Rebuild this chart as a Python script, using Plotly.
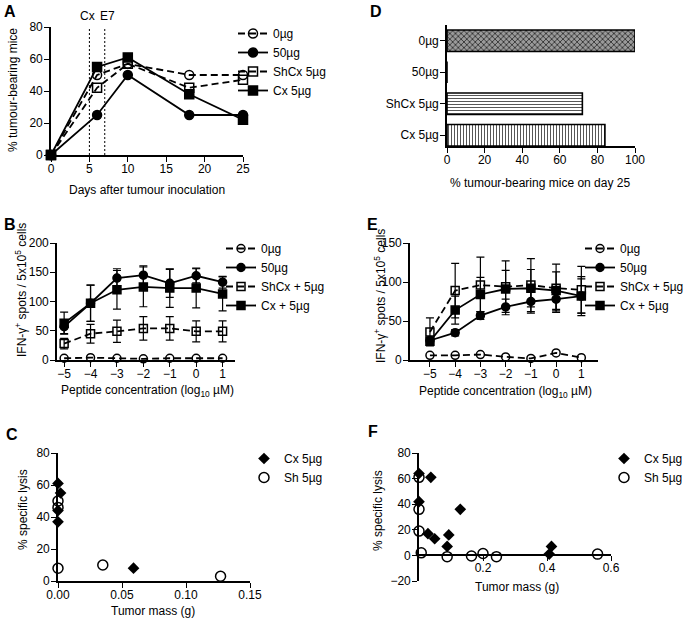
import plotly.graph_objects as go

W, H = 687, 623
FONT = "Liberation Sans, Arial, sans-serif"

# ---------------- data ----------------
A_days = [0, 6, 10, 18, 25]
A_0ug = [0, 50, 57, 50, 50]
A_50ug = [0, 25, 50, 25, 25]
A_shcx = [0, 42, 57, 42, 47]
A_cx = [0, 55, 61, 38, 22]

D_groups = ["0µg", "50µg", "ShCx 5µg", "Cx 5µg"]
D_values = [100, 0, 72, 84]

conc = [-5, -4, -3, -2, -1, 0, 1]
B_0ug = [3, 4, 3, 2, 3, 3, 3]
B_50ug = [57, 97, 140, 145, 131, 144, 133]
B_50ug_err = [12, 31, 16, 16, 24, 12, 10]
B_shcx = [28, 45, 49, 54, 54, 49, 49]
B_shcx_err = [9, 16, 19, 20, 20, 18, 18]
B_cx = [63, 97, 120, 125, 123, 123, 113]
B_cx_err = [19, 31, 33, 34, 33, 34, 29]

E_0ug = [6, 6, 7, 4, 2, 9, 3]
E_50ug = [25, 35, 57, 68, 75, 78, 82]
E_50ug_err = [4, 4, 5, 10, 15, 15, 25]
E_shcx = [36, 89, 96, 94, 96, 92, 90]
E_shcx_err = [18, 35, 36, 33, 34, 31, 30]
E_cx = [24, 64, 84, 91, 92, 89, 82]
E_cx_err = [5, 18, 22, 24, 24, 24, 22]

C_cx_mass = [0, 0.002, 0, 0, 0.059]
C_cx_lysis = [61, 55, 44, 37, 8]
C_sh_mass = [0, 0, 0, 0.035, 0.127]
C_sh_lysis = [50, 46, 8, 10, 3]

F_cx_mass = [0, 0, 0.037, 0.028, 0.049, 0.129, 0.093, 0.088, 0.407, 0.414]
F_cx_lysis = [64, 42, 61, 17, 13, 36, 16, 7, 1, 7]
F_sh_mass = [0, 0, 0, 0.007, 0.088, 0.164, 0.2, 0.242, 0.558]
F_sh_lysis = [61, 36, 19, 2, -1, -0.5, 1.5, -1, 1]


def fx(px):
    return px / W


def fy(py):
    return 1 - py / H


fig = go.Figure()

DASH = "7px,4px"
LW = 1.8


def series(x, y, name, symbol, dash, xa, ya, legend, err=None, size=8, showlegend=True):
    m = dict(symbol=symbol, size=size, color="black",
             line=dict(color="black", width=1.5))
    kw = {}
    if err is not None:
        kw["error_y"] = dict(type="data", array=err, visible=True, color="black",
                             thickness=1.2, width=4)
    fig.add_trace(go.Scatter(
        x=x, y=y, name=name, mode="lines+markers", marker=m,
        line=dict(color="black", width=LW, dash=dash),
        xaxis=xa, yaxis=ya, legend=legend, cliponaxis=False,
        showlegend=showlegend, **kw))


# Panel A
series(A_days, A_0ug, "0µg", "circle-open", DASH, "x", "y", "legend", size=9)
series(A_days, A_50ug, "50µg", "circle", "solid", "x", "y", "legend", size=9)
series(A_days, A_shcx, "ShCx 5µg", "square-open", DASH, "x", "y", "legend", size=9)
series(A_days, A_cx, "Cx 5µg", "square", "solid", "x", "y", "legend", size=9)

# Panel D
fig.add_trace(go.Bar(
    x=D_values, y=D_groups, orientation="h", width=0.68,
    marker=dict(color="white", line=dict(color="black", width=1.6),
                pattern=dict(shape=["x", "", "-", "|"],
                             fgcolor=["#222", "black", "#444", "#444"],
                             bgcolor=["#9a9a9a", "white", "white", "white"],
                             size=[4, 4, 3, 3], solidity=[0.35, 0.3, 0.3, 0.3],
                             fillmode="replace")),
    xaxis="x2", yaxis="y2", showlegend=False))

# Panel B
series(conc, B_0ug, "0µg", "circle-open", DASH, "x3", "y3", "legend2")
series(conc, B_50ug, "50µg", "circle", "solid", "x3", "y3", "legend2", err=B_50ug_err)
series(conc, B_shcx, "ShCx + 5µg", "square-open", DASH, "x3", "y3", "legend2", err=B_shcx_err)
series(conc, B_cx, "Cx + 5µg", "square", "solid", "x3", "y3", "legend2", err=B_cx_err)

# Panel E
series(conc, E_0ug, "0µg", "circle-open", DASH, "x4", "y4", "legend3")
series(conc, E_50ug, "50µg", "circle", "solid", "x4", "y4", "legend3", err=E_50ug_err)
series(conc, E_shcx, "ShCx + 5µg", "square-open", DASH, "x4", "y4", "legend3", err=E_shcx_err)
series(conc, E_cx, "Cx + 5µg", "square", "solid", "x4", "y4", "legend3", err=E_cx_err)

# Panel C
fig.add_trace(go.Scatter(x=C_cx_mass, y=C_cx_lysis, mode="markers", name="Cx 5µg",
                         marker=dict(symbol="diamond", size=9, color="black"),
                         xaxis="x5", yaxis="y5", legend="legend4", cliponaxis=False))
fig.add_trace(go.Scatter(x=C_sh_mass, y=C_sh_lysis, mode="markers", name="Sh 5µg",
                         marker=dict(symbol="circle-open", size=10, color="black",
                                     line=dict(width=1.5)),
                         xaxis="x5", yaxis="y5", legend="legend4", cliponaxis=False))

# Panel F
fig.add_trace(go.Scatter(x=F_cx_mass, y=F_cx_lysis, mode="markers", name="Cx 5µg",
                         marker=dict(symbol="diamond", size=9, color="black"),
                         xaxis="x6", yaxis="y6", legend="legend5", cliponaxis=False))
fig.add_trace(go.Scatter(x=F_sh_mass, y=F_sh_lysis, mode="markers", name="Sh 5µg",
                         marker=dict(symbol="circle-open", size=10, color="black",
                                     line=dict(width=1.5)),
                         xaxis="x6", yaxis="y6", legend="legend5", cliponaxis=False))

AX = dict(showline=True, linecolor="black", linewidth=1.6, ticks="outside",
          ticklen=5, tickwidth=1.4, tickcolor="black", showgrid=False,
          zeroline=False, tickfont=dict(size=12, color="black", family=FONT),
          fixedrange=True, automargin=False)


def xax(**kw):
    d = dict(AX)
    d["ticklabelstandoff"] = -3
    d.update(kw)
    return d


def yax(**kw):
    d = dict(AX)
    d["ticklabelstandoff"] = -1
    d.update(kw)
    return d


layout = dict(
    width=W, height=H, margin=dict(l=0, r=0, t=0, b=0, autoexpand=False),
    paper_bgcolor="white", plot_bgcolor="rgba(0,0,0,0)",
    font=dict(family=FONT, size=12, color="black"),
    bargap=0.3,
    # A
    xaxis=xax(domain=[fx(51), fx(243)], range=[0, 25], tickvals=[0, 5, 10, 15, 20, 25], anchor="y"),
    yaxis=yax(domain=[fy(155), fy(27)], range=[0, 80], tickvals=[0, 20, 40, 60, 80], anchor="x"),
    # D
    xaxis2=xax(domain=[fx(447), fx(635)], range=[0, 100], tickvals=[0, 20, 40, 60, 80, 100], anchor="y2"),
    yaxis2=yax(domain=[fy(146), fy(25)], range=[-0.34, 3.5], type="category",
               categoryorder="array", categoryarray=D_groups[::-1], anchor="x2"),
    # B
    xaxis3=xax(domain=[fx(57), fx(235)], range=[-5.27, 1.47], tickvals=conc, anchor="y3"),
    yaxis3=yax(domain=[fy(360), fy(243)], range=[0, 200], tickvals=[0, 50, 100, 150, 200], anchor="x3"),
    # E
    xaxis4=xax(domain=[fx(410), fx(598)], range=[-5.79, 1.66], tickvals=conc, anchor="y4"),
    yaxis4=yax(domain=[fy(360), fy(243)], range=[0, 150], tickvals=[0, 50, 100, 150], anchor="x4"),
    # C
    xaxis5=xax(domain=[fx(58), fx(250)], range=[0, 0.15], tickvals=[0, 0.05, 0.1, 0.15],
               ticktext=["0.00", "0.05", "0.10", "0.15"], anchor="y5"),
    yaxis5=yax(domain=[fy(581), fy(453)], range=[0, 80], tickvals=[0, 20, 40, 60, 80], anchor="x5"),
    # F
    xaxis6=xax(domain=[fx(419), fx(611)], range=[0, 0.6], tickvals=[0.2, 0.4, 0.6],
               ticktext=["0.2", "0.4", "0.6"], anchor="free", position=fy(555)),
    yaxis6=yax(domain=[fy(581), fy(453)], range=[-20, 80], tickvals=[-20, 0, 20, 40, 60, 80], anchor="x6"),
)

LEG = dict(bgcolor="rgba(0,0,0,0)", font=dict(size=12, family=FONT, color="black"),
           xanchor="left", yanchor="top", itemwidth=30, tracegroupgap=0)


def leg(x, y):
    d = dict(LEG)
    d.update(x=x, y=y)
    return d


layout["legend"] = leg(fx(233), fy(19))
layout["legend2"] = leg(fx(221), fy(234))
layout["legend3"] = leg(fx(580), fy(234))
layout["legend4"] = leg(fx(244), fy(444))
layout["legend5"] = leg(fx(604), fy(444))

fig.update_layout(**layout)

# Vertical dotted lines in A
for d in [5, 7]:
    fig.add_shape(type="line", xref="x", yref="y", x0=d, x1=d, y0=0, y1=80,
                  line=dict(color="black", width=1, dash="2px,2px"))

ann = []


def text(x, y, t, size=12, angle=0):
    ann.append(dict(x=fx(x), y=fy(y), xref="paper", yref="paper", text=t,
                    showarrow=False, textangle=angle, xanchor="center", yanchor="middle",
                    font=dict(size=size, family=FONT, color="black")))


text(87, 16, "Cx")
text(107, 16, "E7")

# axis titles
text(147, 190, "Days after tumour inoculation")
text(13, 90, "% tumour-bearing mice", angle=-90)
text(540, 183, "% tumour-bearing mice on day 25")
text(147, 391, "Peptide concentration (log<sub>10</sub> µM)")
text(21, 290, "IFN-γ<sup>+</sup> spots / 5x10<sup>5</sup> cells", angle=-90)
text(505, 392, "Peptide concentration (log<sub>10</sub> µM)")
text(380, 296, "IFN-γ<sup>+</sup> spots / 5x10<sup>5</sup> cells", angle=-90)
text(153, 611, "Tumor mass (g)")
text(23, 510, "% specific lysis", angle=-90)
text(517, 587, "Tumor mass (g)")
text(378, 510, "% specific lysis", angle=-90)

# panel letters
for lx, ly, L in [(10, 12, "A"), (376, 12, "D"), (10, 224, "B"), (372, 224, "E"),
                  (12, 434, "C"), (373, 431, "F")]:
    text(lx, ly, "<b>%s</b>" % L, size=16)

fig.update_layout(annotations=ann)

fig.write_html("out.html", config={"displayModeBar": False},
               post_script="document.body.style.margin='0';document.body.style.padding='0';")
